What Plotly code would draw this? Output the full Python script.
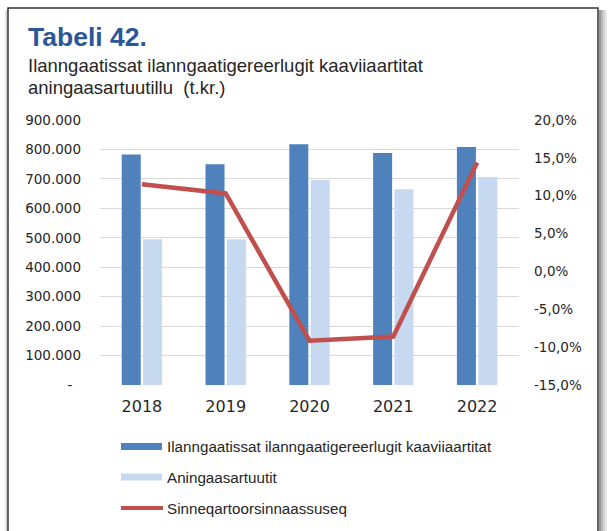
import plotly.graph_objects as go

# Data (t.kr.)
years = ["2018", "2019", "2020", "2021", "2022"]
income = [783000, 750000, 818000, 788000, 808000]
expenses = [495000, 495000, 696000, 665000, 706000]
surplus_pct = [11.5, 10.3, -9.15, -8.6, 14.4]

series_names = [
    "Ilanngaatissat ilanngaatigereerlugit kaaviiaartitat",
    "Aningaasartuutit",
    "Sinneqartoorsinnaassuseq",
]
left_ticks = [0, 100000, 200000, 300000, 400000, 500000, 600000, 700000, 800000, 900000]
right_ticks = [-15, -10, -5, 0, 5, 10, 15, 20]

title_text = "Tabeli 42."
subtitle_lines = ["Ilanngaatissat ilanngaatigereerlugit kaaviiaartitat", "aningaasartuutillu  (t.kr.)"]

C_DARK = "#4F81BD"
C_LIGHT = "#C6D9F1"
C_RED = "#C0504D"
NARROW = "Liberation Sans Narrow, Arial Narrow, sans-serif"
TICKFONT = "DejaVu Sans, Verdana, sans-serif"

W, H = 608, 531
L, R, T, B = 100, 89, 120, 146
PW, PH = W - L - R, H - T - B


def px(x):
    return (x - L) / PW


def py(y):
    return (H - B - y) / PH


def fmt_thousands(v):
    return "-\u00a0\u00a0" if v == 0 else f"{v:,}".replace(",", ".")


fig = go.Figure()
fig.add_trace(go.Bar(x=years, y=income, name=series_names[0], marker=dict(color=C_DARK, line=dict(width=0))))
fig.add_trace(go.Bar(x=years, y=expenses, name=series_names[1], marker=dict(color=C_LIGHT, line=dict(width=0))))
fig.add_trace(go.Scatter(x=years, y=surplus_pct, name=series_names[2], yaxis="y2", mode="lines",
                         line=dict(color=C_RED, width=4.5)))

fig.update_layout(
    width=W, height=H,
    margin=dict(l=L, r=R, t=T, b=B),
    paper_bgcolor="white", plot_bgcolor="white",
    barmode="group", bargap=0.49, bargroupgap=0.11,
    showlegend=False,
    xaxis=dict(type="category", showgrid=False, showline=False, ticks="",
               tickfont=dict(family=TICKFONT, size=16, color="#262626"), ticklabelstandoff=10),
    yaxis=dict(range=[0, 900000], tickvals=left_ticks, ticktext=[fmt_thousands(v) for v in left_ticks],
               showgrid=True, gridcolor="#D9D9D9", gridwidth=1, zeroline=False, showline=False,
               ticks="", ticklabelstandoff=18,
               tickfont=dict(family=TICKFONT, size=13.5, color="#262626")),
    yaxis2=dict(range=[-15, 20], tickvals=right_ticks,
                ticktext=[f"{v:.1f}%".replace(".", ",") for v in right_ticks],
                overlaying="y", side="right", showgrid=False, zeroline=False, showline=False,
                ticks="", ticklabelstandoff=14,
                tickfont=dict(family=TICKFONT, size=13.5, color="#262626")),
)

# Title block
fig.add_annotation(x=px(26), y=py(37), xref="paper", yref="paper", xanchor="left", yanchor="middle",
                   text=f"<b>{title_text}</b>", showarrow=False,
                   font=dict(family=NARROW, size=26.5, color="#2B579A"))
for line, ycen in zip(subtitle_lines, [65, 87]):
    fig.add_annotation(x=px(26), y=py(ycen), xref="paper", yref="paper", xanchor="left", yanchor="middle",
                       text=line, showarrow=False, align="left",
                       font=dict(family=NARROW, size=18.5, color="#262626"))

# Legend drawn below the plot
legend_rows = [446.5, 477, 508]
for i, (name, ycen) in enumerate(zip(series_names, legend_rows)):
    if i < 2:
        fig.add_shape(type="rect", xref="paper", yref="paper",
                      x0=px(121), x1=px(162), y0=py(ycen - 3.5), y1=py(ycen + 3.5),
                      fillcolor=[C_DARK, C_LIGHT][i], line=dict(width=0))
    else:
        fig.add_shape(type="line", xref="paper", yref="paper",
                      x0=px(121), x1=px(163), y0=py(ycen), y1=py(ycen),
                      line=dict(color=C_RED, width=4))
    fig.add_annotation(x=px(165), y=py(ycen), xref="paper", yref="paper", xanchor="left", yanchor="middle",
                       text=name, showarrow=False, font=dict(family=NARROW, size=15.2, color="#262626"))

# Page frame with a soft shadow on the right
for xs, col in [(600, "#9a9a9a"), (602, "#b8b8b8"), (604, "#d2d2d2"), (606, "#e8e8e8"), (6.5, "#d0d0d0")]:
    fig.add_shape(type="line", xref="paper", yref="paper", x0=px(xs), x1=px(xs), y0=py(10), y1=py(540),
                  line=dict(color=col, width=2))
fig.add_shape(type="rect", xref="paper", yref="paper", x0=px(8), x1=px(598), y0=py(8), y1=py(545),
              line=dict(color="#333333", width=1.5), fillcolor="rgba(0,0,0,0)")

fig.write_html("out.html")
